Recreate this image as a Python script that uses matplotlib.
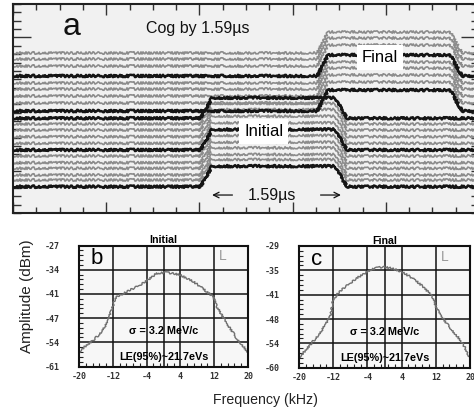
import numpy as np
import matplotlib.pyplot as plt
from matplotlib.ticker import MultipleLocator, FixedLocator, AutoMinorLocator

plt.rcParams['font.family'] = ['Liberation Sans', 'DejaVu Sans']

# scope traces: time in microseconds, trace offsets in screen divisions
trace_span = [0.0, 5.5]
initial_edges = [2.21, 2.35, 3.80, 3.94]   # rise start, rise end, fall start, fall end
final_edges = [3.59, 3.72, 5.16, 5.30]
initial_offsets = [11.33, 10.65, 9.93, 9.13, 8.34, 7.54, 6.82, 6.02, 5.35, 4.55, 3.95, 3.15]
initial_dark = [0, 5, 11]
initial_step = 2.45
final_offsets = [19.14, 18.42, 17.58, 16.39, 15.55, 14.83, 14.0, 13.16, 12.2]
final_dark = [3, 8]
final_step = 2.51
cog_shift_label = "1.59\u00b5s"

# beam spectra: frequency in kHz, amplitude in dBm
initial_khz = [-20, -19.2, -18.2, -16.5, -15, -13.4, -12.4, -11.9, -11.5, -10, -8.7, -7, -5.6,
               -3.5, -1.6, 0.8, 2.5, 3.9, 5.5, 7.1, 8.8, 10.2, 11.8, 12.6, 13.8, 15, 16.2,
               17.3, 18.5, 20]
initial_dbm = [-57.0, -56.0, -55.0, -53.5, -51.7, -48.9, -45.5, -43.7, -41.8, -40.8, -40.0, -39.0,
               -38.1, -36.5, -34.8, -34.6, -34.9, -35.3, -36.2, -37.2, -38.6, -40.0, -41.4, -44.2,
               -46.5, -48.9, -51.0, -53.1, -54.8, -57.0]
final_khz = [-20, -19.8, -18.5, -17.4, -15.1, -13.8, -12.7, -12, -11, -9.6, -8, -6.5, -5, -3.4,
             -1.8, -0.3, 1.3, 2.9, 4.5, 6, 7.5, 9.1, 10.3, 11.4, 12.2, 13.3, 14.5, 16, 17.7,
             18.8, 19.6, 20]
final_dbm = [-57.5, -57.2, -55.6, -54.2, -51.2, -49.0, -47.0, -42.8, -41.2, -39.8, -38.4, -37.2,
             -36.2, -35.1, -34.6, -34.3, -34.6, -35.1, -35.9, -36.8, -38.0, -39.4, -40.8, -42.3,
             -44.9, -46.7, -48.7, -50.7, -52.9, -54.8, -56.8, -57.5]
initial_amp_ticks = ["-61", "-54", "-47", "-41", "-34", "-27"]
final_amp_ticks = ["-60", "-54", "-48", "-41", "-35", "-29"]
freq_ticks = [-20, -12, -4, 4, 12, 20]
freq_grid = [-12, -4, 0, 4, 12]
sigma_text = "\u03c3 = 3.2 MeV/c"
emittance_text = "LE(95%)~21.7eVs"

fig = plt.figure(figsize=(4.74, 4.13), dpi=100)

# ---- panel a: stacked scope traces
ax = fig.add_axes([13 / 474, 1 - 213 / 413, 466 / 474, 209 / 413])
ax.set_facecolor('#f1f1f1')


def draw_traces(offsets, edges, step, dark):
    for i, off in enumerate(offsets):
        x = [trace_span[0]] + edges + [trace_span[1]]
        y = [off, off, off + step, off + step, off, off]
        is_dark = i in dark
        line, = ax.plot(x, y, color='#151515' if is_dark else '#8c8c8c',
                        lw=1.8 if is_dark else 1.2, zorder=3 if is_dark else 2)
        line.set_sketch_params(scale=1.2, length=2, randomness=3)


draw_traces(final_offsets, final_edges, final_step, final_dark)
draw_traces(initial_offsets, initial_edges, initial_step, initial_dark)

ax.set_xlim(*trace_span)
ax.set_ylim(0, 25)
ax.xaxis.set_major_locator(MultipleLocator(1.1))
ax.xaxis.set_minor_locator(MultipleLocator(0.275))
ax.yaxis.set_major_locator(FixedLocator([21]))
ax.yaxis.set_minor_locator(MultipleLocator(1))
ax.tick_params(which='both', direction='in', top=True, right=True,
               labelbottom=False, labelleft=False, color='#333', width=1)
ax.tick_params(axis='x', which='major', length=8)
ax.tick_params(axis='x', which='minor', length=4.3)
ax.tick_params(axis='y', which='major', length=13)
ax.tick_params(axis='y', which='minor', length=6)
for s in ax.spines.values():
    s.set_linewidth(1.5)
    s.set_color('#222')

ax.text(0.58, 22.25, 'a', fontsize=23, va='center', ha='left', color='#111')
ax.text(1.57, 22.1, 'Cog by ' + cog_shift_label, fontsize=11.5, va='center', ha='left',
        color='#111')
box = dict(boxstyle='square,pad=0.3', fc='white', ec='none')
ax.text(4.33, 18.66, 'Final', fontsize=12, ha='center', va='center', bbox=box, zorder=5)
ax.text(2.96, 9.8, 'Initial', fontsize=12, ha='center', va='center', bbox=box, zorder=5)

# duration arrows between the initial rising and falling edges
t_left = initial_edges[1]
t_right = (initial_edges[2] + initial_edges[3]) / 2
t_mid = (t_left + t_right) / 2
ax.text(t_mid - 0.05, 2.15, cog_shift_label, fontsize=11.5, ha='center', va='center',
        color='#111')
arrow = dict(arrowstyle='->', color='#111', lw=0.9, shrinkA=0, shrinkB=0)
ax.annotate('', xy=(t_left, 2.15), xytext=(t_left + 0.24, 2.15), arrowprops=arrow)
ax.annotate('', xy=(t_right, 2.15), xytext=(t_right - 0.24, 2.15), arrowprops=arrow)


# ---- panels b and c: spectra
def spectrum(rect, khz, dbm, amp_ticks, title, letter):
    ax = fig.add_axes(rect)
    ax.set_facecolor('#f7f7f7')
    lo, hi = float(amp_ticks[0]), float(amp_ticks[-1])
    ax.set_xlim(-20, 20)
    ax.set_ylim(lo, hi)
    yt = np.linspace(lo, hi, len(amp_ticks))
    ax.set_yticks(yt)
    ax.set_yticklabels(amp_ticks)
    ax.set_xticks(freq_ticks)
    ax.set_xticklabels([str(v) for v in freq_ticks])
    for v in yt[1:-1]:
        ax.axhline(v, color='#111', lw=1.1, zorder=1)
    for v in freq_grid:
        ax.axvline(v, color='#111', lw=1.1, zorder=1)
    line, = ax.plot(khz, dbm, color='#707070', lw=1.0, zorder=2)
    line.set_sketch_params(scale=0.9, length=2, randomness=3)

    ax.xaxis.set_minor_locator(AutoMinorLocator(5))
    ax.yaxis.set_minor_locator(AutoMinorLocator(5))
    ax.tick_params(which='major', length=0)
    ax.tick_params(axis='y', which='major', pad=14)
    ax.tick_params(axis='x', which='major', pad=4)
    ax.tick_params(which='minor', direction='in', length=3, width=0.8, color='#222')
    for lab in ax.get_xticklabels() + ax.get_yticklabels():
        lab.set_fontfamily('DejaVu Sans Mono')
        lab.set_fontsize(6)
        lab.set_fontweight('bold')
        lab.set_color('#333')
    for s in ax.spines.values():
        s.set_linewidth(1.5)
        s.set_color('#111')

    ax.set_title(title, fontsize=7.7, fontweight='bold', pad=1.5)
    ax.text(0.07, 0.89, letter, transform=ax.transAxes, fontsize=16, va='center', ha='left')
    ax.text(0.83, 0.91, 'L', transform=ax.transAxes, fontsize=10, color='#9a9a9a',
            va='center', ha='left')
    ax.text(0.5, 0.29, sigma_text, transform=ax.transAxes, fontsize=7.8, fontweight='bold',
            ha='center', va='center', zorder=4)
    ax.text(0.5, 0.08, emittance_text, transform=ax.transAxes, fontsize=7.8,
            fontweight='bold', ha='center', va='center', zorder=4)
    return ax


spectrum([79 / 474, 1 - 366.5 / 413, 169 / 474, 121 / 413],
         initial_khz, initial_dbm, initial_amp_ticks, 'Initial', 'b')
spectrum([299 / 474, 1 - 367.7 / 413, 171 / 474, 121.7 / 413],
         final_khz, final_dbm, final_amp_ticks, 'Final', 'c')

fig.text(27 / 474, 1 - 296.5 / 413, 'Amplitude (dBm)', rotation=90, fontsize=11,
         ha='center', va='center', color='#222')
fig.text(265 / 474, 1 - 400 / 413, 'Frequency (kHz)', fontsize=10.2,
         ha='center', va='center', color='#222')

fig.savefig('out.png', dpi=100)
